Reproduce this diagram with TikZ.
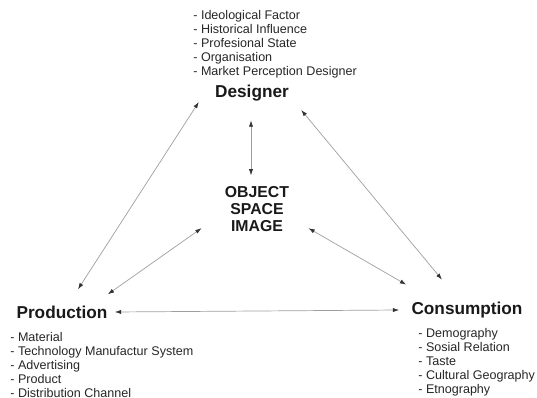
\documentclass[tikz,border=0pt]{standalone}
\usepackage{fontspec}
\setmainfont{Liberation Sans}
\usetikzlibrary{arrows.meta,calc}

\tikzset{
  title/.style={font=\fontsize{9.8}{11}\selectfont\bfseries, text=black!90, inner sep=0pt},
  items/.style={font=\fontsize{7.15}{7.94}\selectfont, text=black!85, align=left, inner sep=0pt, anchor=north west},
  link/.style={draw=gray!75, line width=0.4pt, <->,
    >={Latex[length=3.6pt,width=2.4pt,color=black!80]}}
}

\begin{document}
\begin{tikzpicture}[x=0.02cm, y=-0.02cm]
  \useasboundingbox (0,0) rectangle (537,398);

  % the three poles
  \node[title] (designer) at (252,93) {Designer};
  \node[title] (production) at (62,312) {Production};
  \node[title] (consumption) at (467,310) {Consumption};
  \node[title, font=\fontsize{9}{9.8}\selectfont\bfseries, align=center] (object) at (257,209) {OBJECT\\SPACE\\IMAGE};

  % factor lists
  \node[items] (dlist) at (193,10) {- Ideological Factor\\- Historical Influence\\- Profesional State\\- Organisation\\- Market Perception Designer};
  \node[items] (plist) at (10,332) {- Material\\- Technology Manufactur System\\- Advertising\\- Product\\- Distribution Channel};
  \node[items] (clist) at (418,328) {- Demography\\- Sosial Relation\\- Taste\\- Cultural Geography\\- Etnography};

  % relations
  \draw[link] ($(designer.south)+(-1,19)$) -- ($(designer.south)+(-1,74)$);
  \draw[link] ($(designer.west)+(-16,9)$) -- ($(production.north)+(16,-16)$);
  \draw[link] ($(designer.east)+(12,17)$) -- ($(consumption.north)+(-25,-22)$);
  \draw[link] ($(object.south west)+(-23,-4)$) -- ($(production.north east)+(0,-11)$);
  \draw[link] ($(object.south east)+(19,-4)$) -- ($(consumption.north west)+(-5,-17)$);
  \draw[link] ($(production.east)+(7,0)$) -- ($(consumption.west)+(-12,0)$);
\end{tikzpicture}
\end{document}
